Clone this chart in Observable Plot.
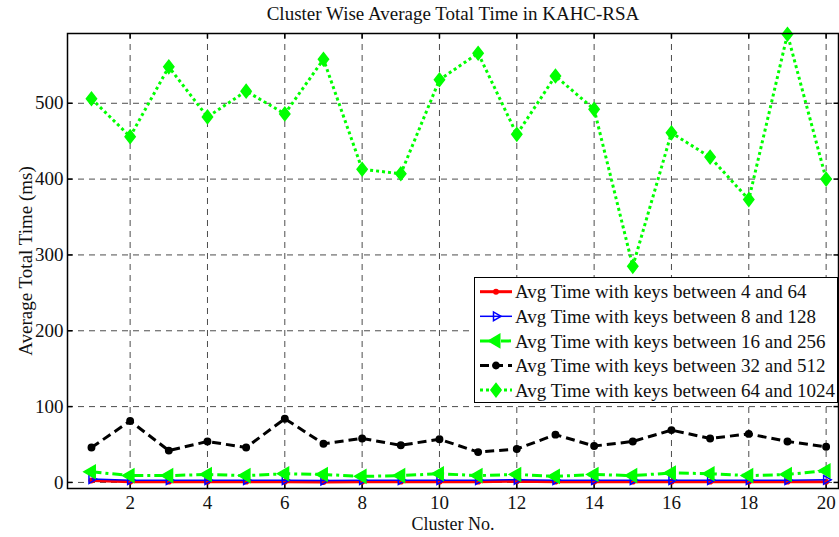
<!DOCTYPE html>
<html>
<head>
<meta charset="utf-8">
<script src="https://cdn.jsdelivr.net/npm/d3@7"></script>
<script src="https://cdn.jsdelivr.net/npm/@observablehq/plot@0.6"></script>
<style>
  html, body { margin: 0; padding: 0; background: #fff; }
  #chart { position: relative; width: 839px; height: 537px; }
  #legend { position: absolute; left: 474px; top: 277px; }
  svg text { font-family: "Liberation Serif", serif; }
</style>
</head>
<body>
<div id="chart"></div>
<script>
// Cluster numbers along the x axis
const clusters = [1, 2, 3, 4, 5, 6, 7, 8, 9, 10, 11, 12, 13, 14, 15, 16, 17, 18, 19, 20];

// Average total time (ms) per cluster for each key range
const keys4to64    = [2.5, 1, 1, 1, 1, 1, 0.5, 1, 1, 1, 1, 1.5, 1, 1, 1, 1, 1, 1, 1, 1];
const keys8to128   = [4.5, 3, 3, 3, 3, 3, 2.5, 3, 3, 3, 3, 3.5, 3, 3, 3, 3, 3, 3, 3, 3.5];
const keys16to256  = [14, 9, 9, 10.5, 9, 11.5, 10.5, 8, 9, 11.5, 9, 10.5, 8, 10.5, 9, 12.5, 11.5, 9, 10.5, 15.5];
const keys32to512  = [46, 81, 42, 54, 46, 84, 51, 58, 49, 57, 40, 44, 63, 48, 54, 69, 58, 64, 54, 47];
const keys64to1024 = [506, 456, 548, 482, 516, 486, 558, 413, 407, 531, 566, 459, 536, 492, 285, 461, 429, 373, 591, 400];

// Tick values and legend labels
const xTicks = [2, 4, 6, 8, 10, 12, 14, 16, 18, 20];
const yTicks = [0, 100, 200, 300, 400, 500];
const legendLabels = [
  "Avg Time with keys between 4 and 64",
  "Avg Time with keys between 8 and 128",
  "Avg Time with keys between 16 and 256",
  "Avg Time with keys between 32 and 512",
  "Avg Time with keys between 64 and 1024"
];

const FONT = "Liberation Serif";

// Custom marker shapes (size is an area; r recovers the radius)
const rad = size => Math.sqrt(size / Math.PI);
const triRight = {draw(ctx, size) { const r = rad(size); ctx.moveTo(r, 0); ctx.lineTo(-r / 2, r * 0.866); ctx.lineTo(-r / 2, -r * 0.866); ctx.closePath(); }};
const triLeft  = {draw(ctx, size) { const r = rad(size); ctx.moveTo(-r, 0); ctx.lineTo(r / 2, r * 0.866); ctx.lineTo(r / 2, -r * 0.866); ctx.closePath(); }};
const diamond  = {draw(ctx, size) { const r = rad(size); ctx.moveTo(0, -r * 1.1); ctx.lineTo(r * 0.85, 0); ctx.lineTo(0, r * 1.1); ctx.lineTo(-r * 0.85, 0); ctx.closePath(); }};
const dotSym   = d3.symbolCircle;
const tickUp    = {draw(ctx, size) { const r = rad(size); ctx.moveTo(0, 0); ctx.lineTo(0, -r); }};
const tickDown  = {draw(ctx, size) { const r = rad(size); ctx.moveTo(0, 0); ctx.lineTo(0, r); }};
const tickRight = {draw(ctx, size) { const r = rad(size); ctx.moveTo(0, 0); ctx.lineTo(r, 0); }};
const tickLeft  = {draw(ctx, size) { const r = rad(size); ctx.moveTo(0, 0); ctx.lineTo(-r, 0); }};

// Series styling
const series = [
  {values: keys4to64,    color: "#ff0000", width: 3,   dash: null,       symbol: dotSym,   r: 2.2, fill: "#ff0000", stroke: "#ff0000"},
  {values: keys8to128,   color: "#0000ff", width: 1.5, dash: null,       symbol: triRight, r: 5,   fill: "none",    stroke: "#0000ff"},
  {values: keys16to256,  color: "#00ff00", width: 3,   dash: "10,4,3,4", symbol: triLeft,  r: 7.5, fill: "#00ff00", stroke: "#00ff00"},
  {values: keys32to512,  color: "#000000", width: 3,   dash: "9,5",      symbol: dotSym,   r: 3.2, fill: "#000000", stroke: "#000000"},
  {values: keys64to1024, color: "#00ff00", width: 3,   dash: "3,3",      symbol: diamond,  r: 6,   fill: "#00ff00", stroke: "#00ff00"}
];

const gridStyle = {stroke: "#000", strokeOpacity: 0.7, strokeWidth: 1, strokeDasharray: "6,5"};
const textStyle = {fontFamily: FONT, fill: "#111", lineAnchor: "middle"};

const marks = [
  Plot.ruleX(xTicks, {x: d => d, ...gridStyle}),
  Plot.ruleY(yTicks, {y: d => d, ...gridStyle}),
  // inward tick marks on all four sides
  Plot.dot(xTicks, {x: d => d, frameAnchor: "bottom", symbol: tickUp, r: 5, stroke: "#000", fill: "none"}),
  Plot.dot(xTicks, {x: d => d, frameAnchor: "top", symbol: tickDown, r: 5, stroke: "#000", fill: "none"}),
  Plot.dot(yTicks, {y: d => d, frameAnchor: "left", symbol: tickRight, r: 5, stroke: "#000", fill: "none"}),
  Plot.dot(yTicks, {y: d => d, frameAnchor: "right", symbol: tickLeft, r: 5, stroke: "#000", fill: "none"}),
  // tick labels
  Plot.text(xTicks, {x: d => d, frameAnchor: "bottom", dy: 14, textAnchor: "middle", text: d => String(d), fontSize: 19, ...textStyle}),
  Plot.text(yTicks, {y: d => d, frameAnchor: "left", dx: -4, textAnchor: "end", text: d => String(d), fontSize: 19, ...textStyle}),
  // axis labels and title
  Plot.text(["Cluster No."], {frameAnchor: "bottom", dy: 36, textAnchor: "middle", fontSize: 18, ...textStyle}),
  Plot.text(["Average Total Time (ms)"], {frameAnchor: "left", dx: -42, textAnchor: "middle", rotate: -90, fontSize: 19, ...textStyle}),
  Plot.text(["Cluster Wise Average Total Time in KAHC-RSA"], {frameAnchor: "top", dy: -20, textAnchor: "middle", fontSize: 19, ...textStyle})
];

for (const s of series) {
  marks.push(Plot.line(clusters, {x: clusters, y: s.values, stroke: s.color, strokeWidth: s.width, strokeDasharray: s.dash, strokeLinecap: "butt", strokeLinejoin: "miter"}));
  marks.push(Plot.dot(clusters, {x: clusters, y: s.values, symbol: s.symbol, r: s.r, fill: s.fill, stroke: s.stroke, strokeWidth: 1.5}));
}
marks.push(Plot.frame({stroke: "#000", strokeWidth: 1.5}));

const chart = Plot.plot({
  width: 839,
  height: 537,
  marginLeft: 67,
  marginRight: 1,
  marginTop: 33,
  marginBottom: 49,
  style: {fontFamily: FONT, background: "#fff", overflow: "visible"},
  x: {domain: [0.38, 20.32], axis: null},
  y: {domain: [-8, 592], axis: null},
  marks
});
document.getElementById("chart").appendChild(chart);

// Legend box in the lower right of the plot area
const lw = 364, lh = 126, rowStart = 14.7, rowStep = 24.6;
const legend = d3.select("#chart").append("svg")
  .attr("id", "legend").attr("width", lw).attr("height", lh);
legend.append("rect").attr("x", 0.5).attr("y", 0.5).attr("width", lw - 1).attr("height", lh - 1)
  .attr("fill", "#fff").attr("stroke", "#000").attr("stroke-width", 1);
series.forEach((s, i) => {
  const y = rowStart + i * rowStep;
  legend.append("line").attr("x1", 6).attr("x2", 38).attr("y1", y).attr("y2", y)
    .attr("stroke", s.color).attr("stroke-width", s.width)
    .attr("stroke-dasharray", s.dash).attr("stroke-linecap", "butt");
  legend.append("path").attr("transform", `translate(22,${y})`)
    .attr("d", d3.symbol(s.symbol, s.r * s.r * Math.PI)())
    .attr("fill", s.fill).attr("stroke", s.stroke).attr("stroke-width", 1.5);
  legend.append("text").attr("x", 41).attr("y", y).attr("dy", "0.35em")
    .attr("font-family", FONT).attr("font-size", 19).attr("fill", "#111").text(legendLabels[i]);
});
</script>
</body>
</html>
